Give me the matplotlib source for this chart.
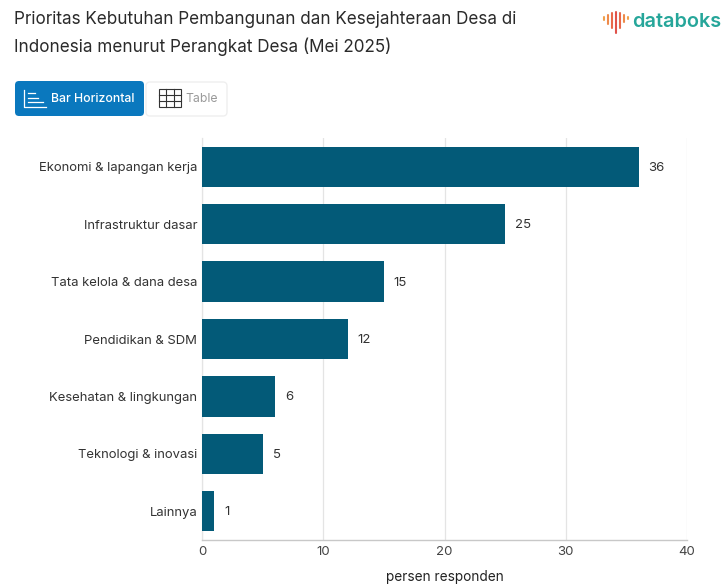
import matplotlib
matplotlib.use("Agg")
import matplotlib.pyplot as plt
from matplotlib.patches import FancyBboxPatch, Rectangle

categories = ["Ekonomi & lapangan kerja", "Infrastruktur dasar", "Tata kelola & dana desa",
              "Pendidikan & SDM", "Kesehatan & lingkungan", "Teknologi & inovasi", "Lainnya"]
values = [36, 25, 15, 12, 6, 5, 1]
xticks = [0, 10, 20, 30, 40]
title_lines = ["Prioritas Kebutuhan Pembangunan dan Kesejahteraan Desa di",
               "Indonesia menurut Perangkat Desa (Mei 2025)"]
xlabel = "persen responden"

W, H = 723, 584
plt.rcParams["font.family"] = ["Inter", "DejaVu Sans"]
fig = plt.figure(figsize=(W / 100, H / 100), dpi=100, facecolor="white")

L, R, T, B = 202, 687, 138, 540
ax = fig.add_axes([L / W, 1 - B / H, (R - L) / W, (B - T) / H])
pos = list(range(len(values)))
ax.barh(pos, values, height=0.7, color="#035A78", zorder=3)
ax.set_ylim(len(values) - 0.5, -0.5)
ax.set_xlim(0, 40)
ax.set_xticks(xticks)
ax.set_yticks(pos)
ax.set_yticklabels(categories, fontsize=9.4, color="#333333")
ax.tick_params(axis="y", length=0, pad=3.5)
ax.tick_params(axis="x", length=0, pad=4.5, labelsize=9.5, labelcolor="#444444")
ax.grid(axis="x", color="#E4E4E4", lw=0.9, zorder=0)
for s in ["top", "right"]:
    ax.spines[s].set_visible(False)
ax.spines["left"].set_color("#E4E4E4")
ax.spines["left"].set_linewidth(0.9)
ax.spines["bottom"].set_color("#C8C8C8")
ax.spines["bottom"].set_linewidth(1)
for p, v in zip(pos, values):
    ax.annotate(str(v), (v, p), xytext=(10, -1), textcoords="offset pixels",
                va="center", ha="left", fontsize=9.5, color="#333333", zorder=4)
fig.text(445 / W, 1 - 577 / H, xlabel, ha="center", va="center", fontsize=9.8, color="#222222")

ov = fig.add_axes([0, 0, 1, 1], facecolor="none")
ov.set_xlim(0, W); ov.set_ylim(H, 0); ov.axis("off")
ov.text(14, 20, title_lines[0], fontsize=12.3, color="#2A2A2A", va="center", ha="left")
ov.text(14, 47, title_lines[1], fontsize=12.3, color="#2A2A2A", va="center", ha="left")

ov.add_patch(FancyBboxPatch((146, 82), 81, 34, boxstyle="round,pad=0,rounding_size=4",
                            fc="white", ec="#EFEFEF", lw=1))
ov.add_patch(FancyBboxPatch((15, 81), 129, 35, boxstyle="round,pad=0,rounding_size=4",
                            fc="#0A78BE", ec="none"))
ov.text(51, 99, "Bar Horizontal", fontsize=8.8, fontweight="medium", color="white", va="center", ha="left")
ov.text(185, 99, "Table", fontsize=8.8, color="#9A9A9A", va="center", ha="left")
ov.plot([24, 24, 46], [90, 107, 107], color="white", lw=0.9)
for y, x1 in [(93, 35), (98, 38), (102, 43)]:
    ov.plot([28, x1], [y, y], color="white", lw=0.9)
ov.add_patch(Rectangle((159, 89), 22, 18, fc="none", ec="#333333", lw=0.8))
for x in (166.3, 173.6):
    ov.plot([x, x], [89, 107], color="#333333", lw=0.8)
for y in (95, 101):
    ov.plot([159, 181], [y, y], color="#333333", lw=0.8)

ov.text(632, 22, "databoks", fontsize=14.3, fontweight="semibold", color="#26A69A", va="center", ha="left")
logo = [(604, 17, 20, "#F0A04B"), (608, 15, 24, "#EE8A4A"), (612, 13, 28, "#E8684A"),
        (616, 12, 33, "#E0524A"), (620, 13, 28, "#E8684A"), (624, 15, 22, "#EE8A4A"), (628, 17, 19, "#F0A04B")]
for x, y1, y2, c in logo:
    ov.plot([x, x], [y1, y2], color=c, lw=1.5, solid_capstyle="round")

fig.savefig("out.png", dpi=100)
